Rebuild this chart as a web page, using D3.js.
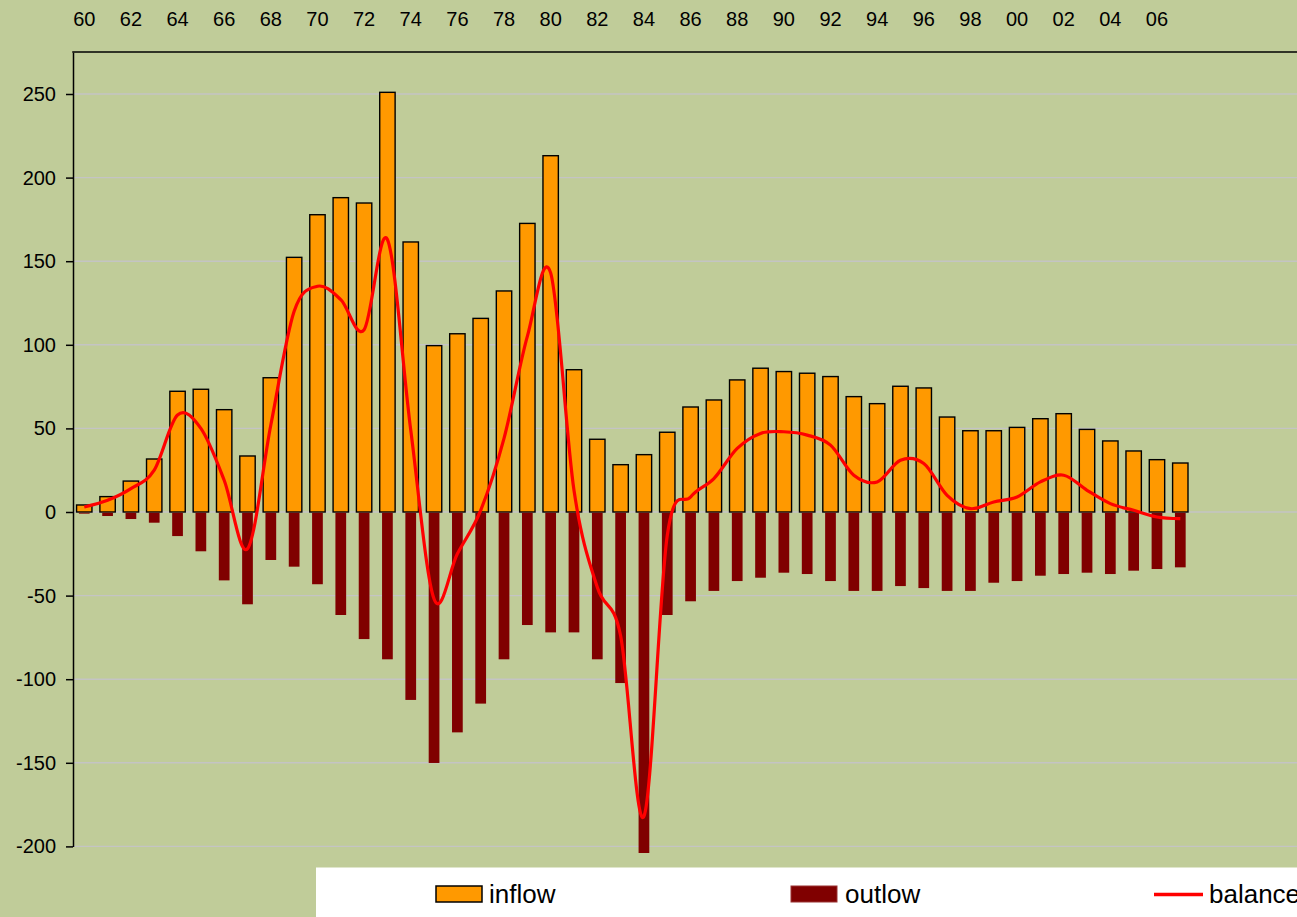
<!DOCTYPE html>
<html>
<head>
<meta charset="utf-8">
<script src="https://cdnjs.cloudflare.com/ajax/libs/d3/7.8.5/d3.min.js"></script>
<style>
  body { margin: 0; padding: 0; background: #C0CC99; }
  svg { display: block; font-family: "Liberation Sans", Arial, sans-serif; }
</style>
</head>
<body>
<div id="chart"></div>
<script>
// Years on the category axis (one bar pair per year)
const years = [1960, 1961, 1962, 1963, 1964, 1965, 1966, 1967, 1968, 1969,
               1970, 1971, 1972, 1973, 1974, 1975, 1976, 1977, 1978, 1979,
               1980, 1981, 1982, 1983, 1984, 1985, 1986, 1987, 1988, 1989,
               1990, 1991, 1992, 1993, 1994, 1995, 1996, 1997, 1998, 1999,
               2000, 2001, 2002, 2003, 2004, 2005, 2006, 2007];

// Labelled years on the top axis
const tickYears = [1960, 1962, 1964, 1966, 1968, 1970, 1972, 1974, 1976, 1978, 1980,
                   1982, 1984, 1986, 1988, 1990, 1992, 1994, 1996, 1998, 2000, 2002, 2004, 2006];

// Value axis ticks
const yTicks = [-200, -150, -100, -50, 0, 50, 100, 150, 200, 250];

const inflow = [4.2, 9.2, 18.5, 31.7, 72.2, 73.4, 61.2, 33.5, 80.3, 152.3,
                177.8, 188, 184.8, 251, 161.5, 99.5, 106.6, 115.8, 132.2, 172.6,
                213.1, 85.1, 43.5, 28.3, 34.3, 47.7, 62.8, 67, 79, 86,
                84, 83, 81, 69, 64.8, 75.2, 74.2, 56.8, 48.6, 48.6,
                50.6, 55.8, 58.8, 49.4, 42.5, 36.5, 31.3, 29.3];

const outflow = [-1, -2.4, -4.2, -6.4, -14.4, -23.5, -40.9, -55.2, -28.7, -32.7,
                 -43.2, -61.6, -76, -88.1, -112.4, -150.1, -131.8, -114.6, -88.1, -67.6,
                 -72, -72, -88.1, -102.3, -216, -61.6, -53.4, -47.2, -41.3, -39.3,
                 -36.3, -37.1, -41.3, -47.2, -47.2, -44.3, -45.5, -47.2, -47.2, -42.3,
                 -41.3, -38.1, -37.1, -36.3, -37.1, -35.1, -34.1, -33.1];

const balance = [3, 7, 14, 25, 58, 50, 19, -22, 52, 120,
                 135, 127, 109, 163, 49, -52, -25, 1, 44, 105,
                 143, 13, -45, -74, -182, -14, 9, 20, 38, 47,
                 48, 46, 40, 22, 18, 31, 29, 10, 2, 6,
                 9, 18, 22, 13, 5, 1, -3, -4];

const width = 1297, height = 917;
const plot = {left: 73, right: 1297, top: 52, bottom: 853};

const svg = d3.select("#chart")
  .append("svg")
    .attr("width", width)
    .attr("height", height);

// Background
svg.append("rect")
  .attr("width", width)
  .attr("height", height)
  .attr("fill", "#C0CC99");

// Scales
const x = d3.scaleBand()
  .domain(years)
  .range([72.6, 72.6 + years.length * 23.32])
  .padding(0);

const y = d3.scaleLinear()
  .domain([-200, 275])
  .range([846.4, 52.2]);

// Clip for plot area
svg.append("clipPath")
  .attr("id", "plotClip")
  .append("rect")
    .attr("x", plot.left)
    .attr("y", plot.top)
    .attr("width", plot.right - plot.left)
    .attr("height", plot.bottom - plot.top);

// Gridlines
svg.append("g")
  .selectAll("line")
  .data(yTicks)
  .enter()
  .append("line")
    .attr("x1", plot.left)
    .attr("x2", plot.right)
    .attr("y1", d => y(d))
    .attr("y2", d => y(d))
    .style("stroke", "#C4C4C4")
    .style("stroke-width", 1.4);

const bars = svg.append("g").attr("clip-path", "url(#plotClip)");
const bw = x.bandwidth();
const inW = bw * 0.66, outW = bw * 0.46;

// Inflow bars (positive)
bars.selectAll(".inflow")
  .data(years)
  .enter()
  .append("rect")
    .attr("class", "inflow")
    .attr("x", (d, i) => x(d) + (bw - inW) / 2)
    .attr("y", (d, i) => y(inflow[i]))
    .attr("width", inW)
    .attr("height", (d, i) => y(0) - y(inflow[i]))
    .style("fill", "#FF9900")
    .style("stroke", "#000")
    .style("stroke-width", 1.4);

// Outflow bars (negative)
bars.selectAll(".outflow")
  .data(years)
  .enter()
  .append("rect")
    .attr("class", "outflow")
    .attr("x", (d, i) => x(d) + (bw - outW) / 2)
    .attr("y", y(0) + 0.7)
    .attr("width", outW)
    .attr("height", (d, i) => y(outflow[i]) - y(0) - 0.7)
    .style("fill", "#800000");

// Balance line (smoothed)
const line = d3.line()
  .x((d, i) => x(years[i]) + bw / 2)
  .y(d => y(d))
  .curve(d3.curveCatmullRom.alpha(0));

bars.append("path")
  .datum(balance)
  .attr("d", line)
  .style("fill", "none")
  .style("stroke", "#FF0000")
  .style("stroke-width", 3.2);

// Left value axis
const yAxis = svg.append("g")
  .attr("transform", `translate(${plot.left},0)`)
  .call(d3.axisLeft(y).tickValues(yTicks).tickFormat(d => String(d))
    .tickSize(7).tickSizeOuter(0).tickPadding(10));
yAxis.selectAll("path, line").style("stroke", "#000").style("stroke-width", 1.5);
yAxis.selectAll("text")
  .style("font-size", "20px")
  .style("font-family", "Liberation Sans, Arial, sans-serif")
  .style("fill", "#000");

// Top category axis
const xAxis = svg.append("g")
  .attr("transform", `translate(0,${plot.top})`)
  .call(d3.axisTop(x).tickValues(tickYears).tickFormat(d => String(d).slice(2)).tickSize(0).tickPadding(26));
xAxis.select(".domain").remove();
xAxis.selectAll("text")
  .style("font-size", "20px")
  .style("font-family", "Liberation Sans, Arial, sans-serif")
  .style("fill", "#000");

svg.append("line")
  .attr("x1", plot.left - 0.75)
  .attr("x2", plot.right)
  .attr("y1", plot.top)
  .attr("y2", plot.top)
  .style("stroke", "#000")
  .style("stroke-width", 1.5);

// Legend
const legend = svg.append("g");
legend.append("rect")
  .attr("x", 316)
  .attr("y", 867.5)
  .attr("width", width - 316)
  .attr("height", height - 867.5)
  .style("fill", "#fff");

legend.append("rect")
  .attr("x", 436).attr("y", 886).attr("width", 46).attr("height", 16)
  .style("fill", "#FF9900").style("stroke", "#000").style("stroke-width", 1.5);
legend.append("text")
  .attr("x", 489).attr("y", 903)
  .style("font-size", "26px")
  .text("inflow");

legend.append("rect")
  .attr("x", 791).attr("y", 886).attr("width", 46).attr("height", 16)
  .style("fill", "#800000").style("stroke", "#993333").style("stroke-width", 1);
legend.append("text")
  .attr("x", 845).attr("y", 903)
  .style("font-size", "26px")
  .text("outlow");

legend.append("line")
  .attr("x1", 1154).attr("x2", 1203).attr("y1", 894.5).attr("y2", 894.5)
  .style("stroke", "#FF0000").style("stroke-width", 3.5);
legend.append("text")
  .attr("x", 1209).attr("y", 903)
  .style("font-size", "26px")
  .text("balance");
</script>
</body>
</html>
